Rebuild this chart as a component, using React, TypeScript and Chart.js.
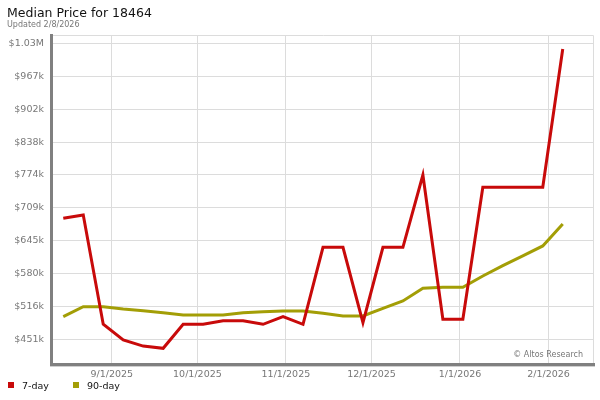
import React, { useEffect, useRef } from "react";
import { Chart, registerables } from "chart.js";

Chart.register(...registerables);

const titleText = "Median Price for 18464";
const subtitleText = "Updated 2/8/2026";
const watermarkText = "© Altos Research";

const weekDates = [
  "2025-08-15", "2025-08-22", "2025-08-29", "2025-09-05", "2025-09-12", "2025-09-19",
  "2025-09-26", "2025-10-03", "2025-10-10", "2025-10-17", "2025-10-24", "2025-10-31",
  "2025-11-07", "2025-11-14", "2025-11-21", "2025-11-28", "2025-12-05", "2025-12-12",
  "2025-12-19", "2025-12-26", "2026-01-02", "2026-01-09", "2026-01-16", "2026-01-23",
  "2026-01-30", "2026-02-06",
];

const sevenDay = [
  688600, 695000, 480700, 450000, 438000, 433600, 480700, 480700, 487800, 487800,
  480700, 495600, 480700, 631700, 631700, 483900, 631700, 631700, 773500, 490500,
  490500, 749400, 749400, 749400, 749400, 1020600,
];

const ninetyDay = [
  495600, 515200, 515200, 510700, 507400, 503500, 499000, 499000, 499000, 503500,
  505500, 506800, 506800, 502300, 497000, 497000, 512000, 526400, 551300, 553300,
  553300, 575500, 595600, 614700, 634300, 677400,
];

const xTickDates = ["2025-09-01", "2025-10-01", "2025-11-01", "2025-12-01", "2026-01-01", "2026-02-01"];
const xTickLabels = ["9/1/2025", "10/1/2025", "11/1/2025", "12/1/2025", "1/1/2026", "2/1/2026"];

const yTickValues = [451300, 515750, 580200, 644650, 709100, 773550, 838000, 902450, 966900, 1031350];
const yTickLabels = ["$451k", "$516k", "$580k", "$645k", "$709k", "$774k", "$838k", "$902k", "$967k", "$1.03M"];

const seriesNames = ["7-day", "90-day"];
const seriesColors = ["#c80a0a", "#a39e06"];

const toDay = (s: string) => Date.parse(s + "T00:00:00Z") / 86400000;

const FONT = "'DejaVu Sans', Verdana, sans-serif";

export default function App() {
  const ref = useRef<HTMLCanvasElement | null>(null);

  useEffect(() => {
    if (!ref.current) return;
    const xs = weekDates.map(toDay);
    const xTicks = xTickDates.map(toDay);

    const overlay = {
      id: "overlay",
      beforeDatasetsDraw(chart: any) {
        const { ctx, chartArea } = chart;
        ctx.save();
        ctx.strokeStyle = "#dcdcdc";
        ctx.lineWidth = 1;
        ctx.beginPath();
        ctx.moveTo(chartArea.left, chartArea.top + 0.5);
        ctx.lineTo(chartArea.right + 0.5, chartArea.top + 0.5);
        ctx.lineTo(chartArea.right + 0.5, chartArea.bottom);
        ctx.stroke();
        ctx.restore();
      },
      afterDraw(chart: any) {
        const { ctx, chartArea } = chart;
        ctx.save();
        // axis lines
        ctx.fillStyle = "#cfcfcf";
        ctx.fillRect(chartArea.left - 3, chartArea.bottom + 3, chartArea.right - chartArea.left + 5, 1);
        ctx.fillStyle = "#808080";
        ctx.fillRect(chartArea.left - 3, chartArea.top - 1, 3, chartArea.bottom - chartArea.top + 4);
        ctx.fillRect(chartArea.left - 3, chartArea.bottom, chartArea.right - chartArea.left + 5, 3);

        // title
        ctx.textBaseline = "alphabetic";
        ctx.textAlign = "left";
        ctx.fillStyle = "#111";
        ctx.font = `12.5px ${FONT}`;
        ctx.fillText(titleText, 7, 17);
        ctx.fillStyle = "#777";
        ctx.font = `8px ${FONT}`;
        ctx.fillText(subtitleText, 7, 27);

        // watermark
        ctx.fillStyle = "#777";
        ctx.font = `8px ${FONT}`;
        ctx.textAlign = "right";
        ctx.fillText(watermarkText, 583, 357);

        // legend
        ctx.textAlign = "left";
        ctx.font = `9.5px ${FONT}`;
        const legendX = [8, 73];
        seriesNames.forEach((name, i) => {
          ctx.fillStyle = seriesColors[i];
          ctx.fillRect(legendX[i], 382, 6, 6);
          ctx.fillStyle = "#111";
          ctx.fillText(name, legendX[i] + 14, 389);
        });
        ctx.restore();
      },
    };

    const chart = new Chart(ref.current, {
      type: "line",
      data: {
        datasets: [
          {
            label: seriesNames[0],
            data: xs.map((x, i) => ({ x, y: sevenDay[i] })),
            borderColor: seriesColors[0],
            backgroundColor: seriesColors[0],
            borderWidth: 3,
            pointRadius: 0,
            tension: 0,
          },
          {
            label: seriesNames[1],
            data: xs.map((x, i) => ({ x, y: ninetyDay[i] })),
            borderColor: seriesColors[1],
            backgroundColor: seriesColors[1],
            borderWidth: 3,
            pointRadius: 0,
            tension: 0,
          },
        ],
      },
      options: {
        animation: false,
        responsive: false,
        maintainAspectRatio: false,
        layout: { padding: { left: 0, top: 35, right: 7, bottom: 0 } },
        plugins: {
          legend: { display: false },
          title: { display: false },
          tooltip: { enabled: false },
        },
        scales: {
          x: {
            type: "linear",
            min: xs[0] - 3.6,
            max: xs[xs.length - 1] + 10.6,
            afterBuildTicks: (axis: any) => {
              axis.ticks = xTicks.map((v) => ({ value: v }));
            },
            afterFit: (axis: any) => {
              axis.height = 37;
            },
            grid: { color: "#dcdcdc", drawTicks: false, lineWidth: 1 },
            border: { display: false },
            ticks: {
              autoSkip: false,
              maxRotation: 0,
              padding: 6,
              color: "#777",
              font: { family: FONT, size: 9.5 },
              callback: (_v: any, i: number) => xTickLabels[i],
            },
          },
          y: {
            type: "linear",
            min: 404800,
            max: 1048000,
            afterBuildTicks: (axis: any) => {
              axis.ticks = yTickValues.map((v) => ({ value: v }));
            },
            afterFit: (axis: any) => {
              axis.width = 53;
            },
            grid: { color: "#dcdcdc", drawTicks: false, lineWidth: 1 },
            border: { display: false },
            ticks: {
              autoSkip: false,
              padding: 9,
              color: "#777",
              font: { family: FONT, size: 9.5 },
              callback: (_v: any, i: number) => yTickLabels[i],
            },
          },
        },
      },
      plugins: [overlay],
    });
    return () => chart.destroy();
  }, []);

  return (
    <div style={{ position: "fixed", left: 0, top: 0, width: 600, height: 400, background: "#fff" }}>
      <canvas ref={ref} width={600} height={400} style={{ width: 600, height: 400, display: "block" }} />
    </div>
  );
}
